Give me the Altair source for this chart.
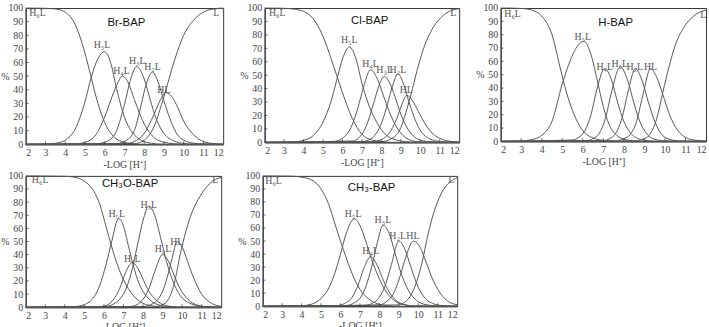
import altair as alt
import pandas as pd

# Species distribution of the substituted BAP ligands (percent vs. -log[H+]).
# Each curve: species -> (pH points, percent values)

br_curves = {
    "H₆L": ([2, 3, 3.5, 4, 4.5, 5, 5.3, 5.6, 6, 6.5, 7, 7.5, 8, 12],
            [100, 99.8, 99.3, 97, 88, 67, 50, 33, 16, 5, 1.5, 0.3, 0, 0]),
    "H₅L": ([2, 3, 3.5, 4, 4.5, 5, 5.3, 5.6, 6.0, 6.3, 6.6, 7.0, 7.5, 8, 8.5, 9, 12],
            [0, 0.2, 0.7, 3, 11, 31, 48, 61, 68, 60, 41, 20, 7, 2, 0.5, 0, 0]),
    "H₄L": ([2, 4.5, 5, 5.5, 6, 6.3, 6.6, 6.9, 7.2, 7.5, 8, 8.5, 9, 9.5, 10, 12],
            [0, 0.3, 1.5, 6, 20, 32, 43, 50, 45, 33, 15, 5, 1.5, 0.4, 0, 0]),
    "H₃L": ([2, 5.5, 6, 6.5, 7, 7.3, 7.62, 8.0, 8.3, 8.6, 9, 9.5, 10, 10.5, 12],
            [0, 0.3, 1.5, 7, 29, 47, 57, 48, 33, 19, 8, 2.5, 0.6, 0, 0]),
    "H₂L": ([2, 6.5, 7, 7.5, 7.8, 8.1, 8.42, 8.7, 9.0, 9.3, 9.6, 10, 10.5, 11, 12],
            [0, 0.3, 2, 10, 26, 44, 53, 46, 32, 19, 9, 3, 0.8, 0.2, 0]),
    "HL": ([2, 7, 7.5, 8, 8.5, 8.8, 9.1, 9.4, 9.7, 10, 10.5, 11, 11.5, 12],
           [0, 0.5, 2, 8, 22, 32, 38, 35, 27, 17, 7, 2, 0.5, 0]),
    "L": ([2, 7.5, 8, 8.5, 9, 9.5, 10, 10.5, 11, 11.5, 12],
          [0, 0.5, 3, 13, 35, 60, 80, 91, 97, 99.3, 100]),
}
br_lab_x = [2.6, 5.87, 6.85, 7.65, 8.42, 9.0, 11.65]
br_lab_y = [96, 73, 54, 61, 57, 40, 96]

cl_curves = {
    "H₆L": ([2, 3, 3.5, 4, 4.5, 5, 5.4, 5.7, 6, 6.5, 7, 7.5, 8, 8.5, 12],
            [100, 99.8, 99.2, 97.5, 92, 79, 63, 50, 37, 18, 6, 1.8, 0.5, 0, 0]),
    "H₅L": ([2, 3.5, 4, 4.5, 5, 5.4, 5.7, 6.0, 6.35, 6.7, 7.0, 7.4, 7.8, 8.2, 8.6, 9, 9.5, 10, 12],
            [0, 0.3, 1.5, 5, 15, 30, 46, 62, 71, 62, 44, 26, 14, 6, 2.5, 1, 0.2, 0, 0]),
    "H₄L": ([2, 5.5, 6, 6.5, 6.8, 7.1, 7.44, 7.8, 8.1, 8.4, 8.8, 9.2, 9.6, 10, 12],
            [0, 0.5, 3, 13, 26, 42, 54, 47, 35, 23, 11, 4, 1.2, 0.3, 0]),
    "H₃L": ([2, 6.5, 7, 7.3, 7.6, 7.9, 8.15, 8.4, 8.7, 9.0, 9.4, 9.8, 10.3, 11, 12],
            [0, 1, 6, 15, 29, 43, 49, 45, 34, 21, 9, 3, 0.7, 0, 0]),
    "H₂L": ([2, 7, 7.5, 7.8, 8.1, 8.4, 8.6, 8.85, 9.1, 9.4, 9.7, 10, 10.5, 11, 11.5, 12],
            [0, 0.5, 3, 8, 18, 33, 43, 51, 45, 31, 18, 9, 2.5, 0.6, 0, 0]),
    "HL": ([2, 7.5, 8, 8.5, 8.8, 9.05, 9.3, 9.6, 9.9, 10.2, 10.6, 11, 11.5, 12],
           [0, 0.5, 2, 9, 18, 28, 35, 31, 23, 15, 7, 3, 0.8, 0.2]),
    "L": ([2, 8, 8.5, 9, 9.3, 9.6, 9.9, 10.2, 10.6, 11, 11.5, 12],
          [0, 0.5, 2.5, 11, 24, 40, 57, 71, 84, 92, 97.5, 99.5]),
}
cl_lab_x = [2.65, 6.35, 7.44, 8.17, 8.85, 9.28, 11.7]
cl_lab_y = [96, 76, 58, 54, 54, 39, 96]

h_curves = {
    "H₆L": ([2, 3, 3.5, 4, 4.5, 4.9, 5.2, 5.5, 6, 6.5, 7, 7.5, 12],
            [100, 99.7, 98.5, 94, 80, 55, 37, 23, 8, 2.5, 0.7, 0, 0]),
    "H₅L": ([2, 3, 3.5, 4, 4.5, 5, 5.3, 5.6, 6.05, 6.4, 6.7, 7.0, 7.3, 7.7, 8.1, 8.5, 9, 12],
            [0, 0.3, 1.2, 4.5, 15, 43, 57, 68, 75, 65, 46, 26, 12, 4, 1.2, 0.3, 0, 0]),
    "H₄L": ([2, 5.5, 5.8, 6.1, 6.4, 6.7, 7.07, 7.4, 7.7, 8.0, 8.4, 8.8, 9.2, 9.7, 12],
            [0, 1, 3, 8, 20, 40, 54.5, 46, 29, 15, 5, 1.5, 0.4, 0, 0]),
    "H₃L": ([2, 6.2, 6.5, 6.8, 7.1, 7.4, 7.82, 8.2, 8.5, 8.8, 9.1, 9.5, 10, 10.5, 12],
            [0, 0.5, 2, 6, 17, 37, 56, 45, 28, 14, 6, 1.5, 0.3, 0, 0]),
    "H₂L": ([2, 7, 7.3, 7.6, 7.9, 8.2, 8.56, 8.9, 9.2, 9.5, 9.8, 10.2, 10.7, 11.2, 12],
            [0, 0.5, 2, 6, 17, 37, 54.5, 45, 29, 15, 6, 1.6, 0.3, 0, 0]),
    "HL": ([2, 7.6, 8, 8.3, 8.6, 8.9, 9.3, 9.6, 9.9, 10.2, 10.5, 10.9, 11.4, 12],
           [0, 0.4, 2, 5, 14, 33, 54.5, 48, 35, 21, 11, 4, 1, 0.2]),
    "L": ([2, 8.5, 9, 9.3, 9.6, 9.9, 10.2, 10.5, 10.9, 11.4, 12],
          [0, 0.3, 2, 6, 17, 37, 56, 72, 85, 94, 98.5]),
}
h_lab_x = [2.58, 6.0, 7.07, 7.8, 8.53, 9.3, 11.87]
h_lab_y = [95.5, 78.4, 56, 58, 56, 56, 94.5]

ch3o_curves = {
    "H₆L": ([2, 4, 4.5, 5, 5.5, 5.8, 6.1, 6.4, 6.7, 7.0, 7.5, 8, 8.5, 9, 12],
            [100, 99.7, 99, 96, 88, 78, 62, 46, 32, 21, 9, 3, 1, 0.2, 0]),
    "H₅L": ([2, 4.5, 5, 5.5, 5.8, 6.1, 6.4, 6.75, 7.0, 7.25, 7.5, 7.8, 8.2, 8.6, 9.0, 9.5, 10, 12],
            [0, 0.5, 2, 8, 17, 32, 50, 67.5, 62, 47, 32, 18, 8, 3, 1, 0.2, 0, 0]),
    "H₄L": ([2, 5.8, 6.2, 6.5, 6.8, 7.1, 7.45, 7.8, 8.1, 8.4, 8.8, 9.2, 9.7, 12],
            [0, 0.5, 2, 6, 14, 26, 34, 28, 18, 10, 4, 1.2, 0.2, 0]),
    "H₃L": ([2, 6, 6.5, 6.8, 7.1, 7.4, 7.7, 8.0, 8.3, 8.6, 8.9, 9.2, 9.5, 9.9, 10.4, 11, 12],
            [0, 0.5, 2.5, 6, 13, 26, 46, 66, 77, 70, 53, 35, 21, 9, 3, 0.7, 0]),
    "H₂L": ([2, 7.3, 7.7, 8.0, 8.3, 8.6, 9.0, 9.3, 9.6, 9.9, 10.3, 10.8, 11.3, 12],
            [0, 0.5, 2, 6, 14, 27, 40, 35, 24, 14, 6, 1.5, 0.3, 0]),
    "HL": ([2, 8, 8.4, 8.7, 9.0, 9.3, 9.5, 9.75, 10.0, 10.3, 10.6, 11.0, 11.5, 12],
           [0, 0.5, 2, 5, 12, 26, 38, 50, 46, 34, 22, 10, 3, 0.7]),
    "L": ([2, 8.5, 9, 9.3, 9.6, 9.9, 10.2, 10.5, 10.9, 11.4, 12],
          [0, 0.3, 2, 6, 18, 40, 58, 72, 84, 94, 99]),
}
ch3o_lab_x = [2.74, 6.66, 7.45, 8.3, 9.02, 9.73, 11.7]
ch3o_lab_y = [97, 70.8, 37, 78, 44, 50, 96.5]

ch3_curves = {
    "H₆L": ([2, 3.5, 4, 4.5, 5, 5.4, 5.7, 6.0, 6.3, 6.6, 7.0, 7.5, 8, 8.5, 9, 12],
            [100, 99.8, 99, 97, 90, 78, 64, 50, 37, 25, 13, 5, 1.5, 0.4, 0, 0]),
    "H₅L": ([2, 4, 4.5, 5, 5.4, 5.7, 6.0, 6.3, 6.7, 7.0, 7.3, 7.6, 8.0, 8.4, 8.8, 9.3, 9.8, 12],
            [0, 0.4, 1.5, 6, 14, 25, 40, 56, 67, 62, 50, 36, 21, 10, 4, 1, 0.2, 0]),
    "H₄L": ([2, 5.8, 6.2, 6.6, 6.9, 7.2, 7.55, 7.9, 8.2, 8.5, 8.9, 9.3, 9.8, 12],
            [0, 0.5, 2, 7, 16, 29, 38, 31, 20, 11, 4, 1.2, 0.2, 0]),
    "H₃L": ([2, 6.3, 6.7, 7.0, 7.3, 7.6, 7.9, 8.18, 8.5, 8.8, 9.1, 9.5, 9.9, 10.4, 11, 12],
            [0, 0.5, 2.5, 6, 15, 30, 49, 62, 56, 41, 26, 12, 4.5, 1.2, 0.2, 0]),
    "H₂L": ([2, 7.2, 7.6, 8.0, 8.3, 8.6, 9.0, 9.3, 9.6, 9.9, 10.3, 10.8, 11.3, 12],
            [0, 0.5, 2, 7, 16, 31, 50, 44, 31, 18, 7, 1.8, 0.4, 0]),
    "HL": ([2, 8, 8.4, 8.7, 9.0, 9.3, 9.75, 10.1, 10.4, 10.7, 11.0, 11.5, 12],
           [0, 1, 4, 9, 20, 35, 50, 45, 34, 22, 13, 4, 1.2]),
    "L": ([2, 9, 9.3, 9.6, 9.9, 10.2, 10.5, 10.8, 11.2, 11.6, 12],
          [0, 1, 3, 8, 18, 34, 55, 72, 87, 95, 98.5]),
}
ch3_lab_x = [2.56, 6.65, 7.55, 8.18, 8.94, 9.72, 11.7]
ch3_lab_y = [96, 71, 42, 66, 54, 54, 96.7]

label_names = ["H₆L", "H₅L", "H₄L", "H₃L", "H₂L", "HL", "L"]

titles = ["Br-BAP", "Cl-BAP", "H-BAP", "CH₃O-BAP", "CH₃-BAP"]
title_x = [7.1, 7.4, 7.6, 7.34, 7.6]
title_y = [89, 90, 89, 94, 91]

x_label_values = list(range(2, 13))
y_label_values = list(range(0, 101, 10))
x_tick_values = list(range(3, 12))
y_tick_values = list(range(10, 100, 10))

SERIF = "Liberation Serif"
SANS = "Liberation Sans"
CURVE_GREY = "#555555"
LABEL_GREY = "#555555"


def panel(curves, lab_x, lab_y, title, tx, ty, w, h):
    rows = []
    for sp, (xs, ys) in curves.items():
        for i, (xv, yv) in enumerate(zip(xs, ys)):
            rows.append({"sp": sp, "x": xv, "y": yv, "i": i})
    df = pd.DataFrame(rows)

    xsc = alt.Scale(domain=[2, 12], nice=False, zero=False)
    ysc = alt.Scale(domain=[0, 100], nice=False)
    xax = alt.Axis(values=x_label_values, title="-LOG [H⁺]", ticks=False,
                   labelPadding=3, titlePadding=2, grid=False)
    yax = alt.Axis(values=y_label_values, title="%", ticks=False, labelPadding=3,
                   grid=False, titleAngle=0, titleX=-21, titleY=h / 2,
                   titleAlign="center", titleBaseline="middle")

    lines = alt.Chart(df).mark_line(
        interpolate="monotone", strokeWidth=1
    ).encode(
        x=alt.X("x:Q", scale=xsc, axis=xax),
        y=alt.Y("y:Q", scale=ysc, axis=yax),
        detail="sp:N",
        order="i:Q",
        color=alt.value(CURVE_GREY),
    )

    xt = alt.Chart(pd.DataFrame({"x": x_tick_values})).mark_tick(
        size=3, thickness=1
    ).encode(x=alt.X("x:Q", scale=xsc, axis=xax), y=alt.value(h - 1.5),
             color=alt.value("#333333"))

    yt = alt.Chart(pd.DataFrame({"y": y_tick_values})).mark_tick(
        size=3, thickness=1
    ).encode(y=alt.Y("y:Q", scale=ysc, axis=yax), x=alt.value(1.5),
             color=alt.value("#333333"))

    labs = alt.Chart(pd.DataFrame({"x": lab_x, "y": lab_y, "t": label_names})).mark_text(
        font=SERIF, fontSize=10
    ).encode(x=alt.X("x:Q", scale=xsc, axis=xax), y=alt.Y("y:Q", scale=ysc, axis=yax),
             text="t:N", color=alt.value(LABEL_GREY))

    ttl = alt.Chart(pd.DataFrame({"x": [tx], "y": [ty], "t": [title]})).mark_text(
        font=SANS, fontSize=11.5
    ).encode(x=alt.X("x:Q", scale=xsc, axis=xax), y=alt.Y("y:Q", scale=ysc, axis=yax),
             text="t:N", color=alt.value("#111111"))

    return alt.layer(lines, xt, yt, labs, ttl).properties(width=w, height=h)


p1 = panel(br_curves, br_lab_x, br_lab_y, titles[0], title_x[0], title_y[0], 200, 138)
p2 = panel(cl_curves, cl_lab_x, cl_lab_y, titles[1], title_x[1], title_y[1], 197, 136)
p3 = panel(h_curves, h_lab_x, h_lab_y, titles[2], title_x[2], title_y[2], 208, 135)
p4 = panel(ch3o_curves, ch3o_lab_x, ch3o_lab_y, titles[3], title_x[3], title_y[3], 198, 133)
p5 = panel(ch3_curves, ch3_lab_x, ch3_lab_y, titles[4], title_x[4], title_y[4], 197, 132)

row1 = alt.hconcat(p1, p2, p3, spacing=13)
row2 = alt.hconcat(p4, p5, spacing=13)

chart = alt.vconcat(row1, row2, spacing=0).properties(
    padding={"left": 0, "top": 0, "right": 0, "bottom": 0},
    background="white",
).configure_view(
    stroke="#333333", strokeWidth=1
).configure_axis(
    labelFont=SERIF, labelFontSize=10, labelColor="#444444",
    titleFont=SERIF, titleFontSize=10, titleFontWeight="normal", titleColor="#444444",
    domainColor="#333333", domainWidth=1,
)

chart.save("out.html", embed_options={"renderer": "svg", "actions": False})
